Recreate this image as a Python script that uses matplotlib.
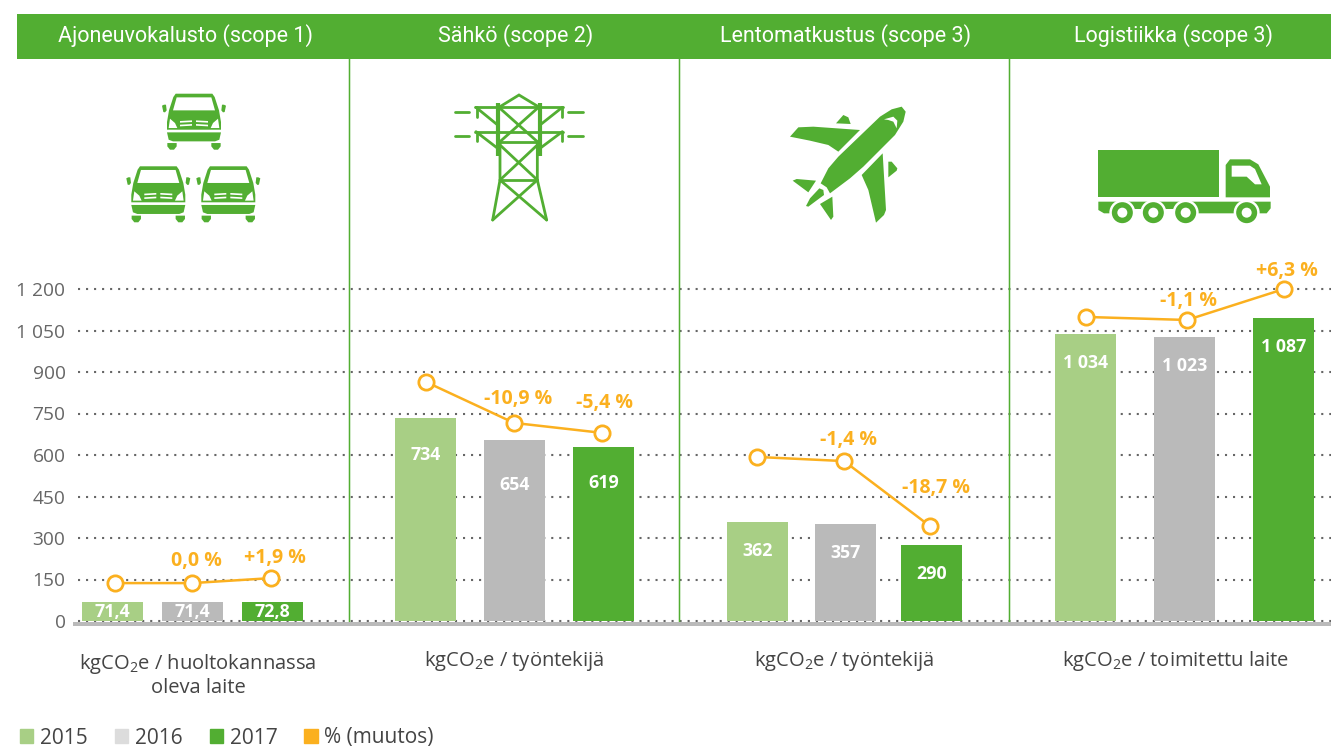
import matplotlib
matplotlib.use("Agg")
import matplotlib.pyplot as plt
from matplotlib.patches import Polygon, Rectangle, Circle, FancyBboxPatch, Patch

# values (bar heights as drawn in the picture, printed labels kept apart)
years = ["2015", "2016", "2017"]
panels = ["Ajoneuvokalusto (scope 1)", "Sähkö (scope 2)", "Lentomatkustus (scope 3)", "Logistiikka (scope 3)"]
v2015 = [69, 734, 358, 1037]
v2016 = [69, 654, 352, 1026]
v2017 = [69, 629, 275, 1095]
bar_labels_2015 = ["71,4", "734", "362", "1 034"]
bar_labels_2016 = ["71,4", "654", "357", "1 023"]
bar_labels_2017 = ["72,8", "619", "290", "1 087"]
# orange change line, read against the same axis
line_1 = [137, 137, 155]
line_2 = [864, 716, 680]
line_3 = [593, 578, 343]
line_4 = [1099, 1088, 1200]
change_1 = ["0,0 %", "+1,9 %"]
change_2 = ["-10,9 %", "-5,4 %"]
change_3 = ["-1,4 %", "-18,7 %"]
change_4 = ["-1,1 %", "+6,3 %"]
yticks = [0, 150, 300, 450, 600, 750, 900, 1050, 1200]
ytick_labels = ["0", "150", "300", "450", "600", "750", "900", "1 050", "1 200"]
units = ["kgCO$_2$e / huoltokannassa\noleva laite", "kgCO$_2$e / työntekijä", "kgCO$_2$e / työntekijä", "kgCO$_2$e / toimitettu laite"]

GREEN = "#52ae32"
LIGHT = "#a8cf85"
GRAY = "#bababa"
ORANGE = "#fbb01f"
TEXT = "#444444"
W, H = 1331, 749

plt.rcParams["font.family"] = ["Open Sans", "DejaVu Sans"]
plt.rcParams["mathtext.fontset"] = "custom"
plt.rcParams["mathtext.rm"] = "Open Sans"
plt.rcParams["mathtext.default"] = "rm"

fig = plt.figure(figsize=(W / 100, H / 100), dpi=100)

# pixel overlay for header, icons and notes
px = fig.add_axes([0, 0, 1, 1], zorder=3)
px.set_xlim(0, W)
px.set_ylim(H, 0)
px.axis("off")
px.patch.set_alpha(0)

# chart axes: 0 at y=621, 1200 at y=289
ax = fig.add_axes([78 / W, (H - 621) / H, (W - 78) / W, (621 - 289) / H], zorder=2)
ax.set_xlim(78, W)
ax.set_ylim(0, 1200)
for s in ax.spines.values():
    s.set_visible(False)
ax.set_xticks([])
ax.set_yticks(yticks)
ax.set_yticklabels(ytick_labels, fontsize=13.8, color="#666666")
ax.tick_params(axis="y", length=0, pad=9)
ax.grid(axis="y", color="#666666", linewidth=1.5, linestyle=(0, (1, 2.85)), zorder=1, clip_on=False)
ax.set_axisbelow(True)

# bar and marker centres for each panel
bar_x = [[112.5, 192.5, 272.5], [425.5, 514.5, 603.5], [757.5, 845.5, 931.5], [1085.5, 1184.5, 1283.5]]
line_x = [[115, 192, 271], [426, 514, 602], [757, 844, 930], [1086, 1187, 1284]]
label_drop = [[10, 10, 10], [37, 45, 36], [29, 29, 29], [29, 29, 29]]
change_xy = [[(196, 561), (275, 558)], [(518, 399), (604, 403)], [(848, 440), (936, 488)], [(1189, 301), (1287, 271)]]
unit_xy = [(198, 675), (514, 661), (844, 661), (1175, 661)]
head_x = [185, 516, 846, 1173]

lines = [line_1, line_2, line_3, line_4]
changes = [change_1, change_2, change_3, change_4]
for i in range(4):
    vals = [v2015[i], v2016[i], v2017[i]]
    labs = [bar_labels_2015[i], bar_labels_2016[i], bar_labels_2017[i]]
    ax.bar(bar_x[i], vals, width=61, color=[LIGHT, GRAY, GREEN], zorder=2)
    for x, v, lab, d in zip(bar_x[i], vals, labs, label_drop[i]):
        ax.annotate(lab, (x, v), xytext=(0, -d * 0.72), textcoords="offset points", ha="center", va="center",
                    color="white", fontsize=12.8, fontweight="bold", zorder=3)
    ax.plot(line_x[i], lines[i], color=ORANGE, linewidth=1.8, marker="o", markersize=11, markerfacecolor="white",
            markeredgecolor=ORANGE, markeredgewidth=2, clip_on=False, zorder=4)
    for (x, y), lab in zip(change_xy[i], changes[i]):
        px.text(x, y, lab, color=ORANGE, fontsize=14, fontweight="bold", ha="center", va="center")
    px.text(unit_xy[i][0], unit_xy[i][1], units[i], color=TEXT, fontsize=14.5, ha="center", va="center", linespacing=1.15)

# header band and separators
px.add_patch(Rectangle((17, 14), W - 17, 45, color=GREEN, lw=0))
for x, name in zip(head_x, panels):
    px.text(x, 35.5, name, color="white", fontsize=15.5, ha="center", va="center", family=["Roboto", "DejaVu Sans"])
for x in [349.5, 679.5, 1009.5]:
    px.plot([x, x], [59, 622], color=GREEN, lw=1.1, solid_capstyle="butt", snap=False)
px.add_patch(Rectangle((73, 621.5), W - 73, 4.5, color=GRAY, lw=0))


def van(cx, top):
    # outline in 3x zoom units, relative to van centre and roof
    def P(pts, c=GREEN):
        px.add_patch(Polygon([(cx + a / 3, top + b / 3) for a, b in pts], closed=True, fc=c, ec="none"))

    def both(pts, c=GREEN):
        P(pts, c)
        P([(-a, b) for a, b in pts], c)
    P([(-55, 0), (55, 0), (62, 10), (75, 50), (81, 85), (81, 108), (-81, 108), (-81, 85), (-75, 50), (-62, 10)])
    P([(-52, 11), (52, 11), (63, 50), (-63, 50)], "white")
    both([(-72, 75), (-76, 103), (-50, 103), (-57, 88)], "white")
    for b in [80, 91]:
        both([(-42, b + 2), (-6, b), (-6, b + 5), (-42, b + 7)], "white")
    P([(-81, 116), (81, 116), (76, 138), (63, 143), (-63, 143), (-76, 138)])
    both([(-80, 148), (-52, 148), (-52, 158), (-60, 168), (-72, 168), (-80, 158)])
    both([(-96, 36), (-90, 33), (-84, 33), (-82, 50), (-87, 56), (-92, 55)])


def pylon():
    def z(a, b):
        return (450 + a / 3, 90 + b / 3)
    thin = [[(150, 50), (207, 15), (265, 50)], [(75, 52), (340, 52)], [(75, 125), (340, 125)],
            [(150, 155), (150, 270), (128, 390)], [(262, 155), (262, 270), (290, 390)],
            [(143, 155), (270, 155)], [(150, 270), (262, 270)], [(150, 55), (262, 155)], [(262, 55), (150, 155)],
            [(150, 165), (262, 270)], [(262, 165), (150, 270)], [(150, 270), (290, 390)], [(262, 270), (128, 390)],
            [(78, 52), (143, 105)], [(337, 52), (270, 105)], [(78, 125), (143, 175)], [(337, 125), (270, 175)],
            [(80, 52), (80, 80)], [(335, 52), (335, 80)], [(80, 125), (80, 152)], [(335, 125), (335, 152)],
            [(15, 66), (58, 66)], [(355, 66), (400, 66)], [(15, 137), (58, 137)], [(355, 137), (400, 137)]]
    for seg in thin:
        xs, ys = zip(*[z(a, b) for a, b in seg])
        px.plot(xs, ys, color=GREEN, lw=2, solid_capstyle="round", solid_joinstyle="miter")
    for a in [143, 270]:
        xs, ys = zip(z(a, 40), z(a, 198))
        px.plot(xs, ys, color=GREEN, lw=3, solid_capstyle="butt")


def plane():
    shapes = [
        [(365, 20), (377, 35), (370, 65), (345, 105), (250, 200), (210, 235), (150, 280), (140, 262), (122, 250), (145, 205), (175, 170), (300, 50), (335, 28)],
        [(30, 110), (55, 82), (100, 80), (240, 90), (175, 155), (145, 135), (90, 122)],
        [(308, 160), (318, 330), (312, 345), (288, 368), (265, 270), (245, 225)],
        [(168, 70), (190, 45), (205, 52), (212, 72)],
        [(325, 185), (335, 185), (352, 205), (350, 212), (325, 232)],
        [(38, 242), (50, 237), (108, 242), (85, 277)],
        [(120, 312), (157, 290), (160, 350), (153, 360)],
        [(78, 318), (90, 295), (118, 265), (130, 270), (132, 285), (105, 305), (85, 320)],
    ]
    for s in shapes:
        px.add_patch(Polygon([(780 + a / 3, 100 + b / 3) for a, b in s], closed=True, fc=GREEN, ec="none"))
    glint = [(312, 58), (340, 50), (352, 62), (350, 85), (340, 65), (325, 60)]
    px.add_patch(Polygon([(780 + a / 3, 100 + b / 3) for a, b in glint], closed=True, fc="white", ec="none"))


def truck():
    def z(a, b):
        return (1090 + a / 3, 145 + b / 3)
    px.add_patch(Polygon([z(25, 15), z(388, 15), z(388, 157), z(25, 157)], fc=GREEN, ec="none"))
    px.add_patch(Polygon([z(407, 157), z(407, 60), z(420, 43), z(480, 43), z(505, 58), z(540, 125), z(540, 157)], fc=GREEN, ec="none"))
    px.add_patch(Polygon([z(425, 62), z(480, 62), z(495, 72), z(515, 118), z(495, 118), z(470, 95), z(425, 95)], fc="white", ec="none"))
    px.add_patch(Polygon([z(25, 170), z(542, 170), z(542, 190), z(530, 205), z(42, 205), z(25, 195)], fc=GREEN, ec="none"))
    px.add_patch(Polygon([z(125, 192), z(260, 192), z(260, 208), z(125, 208)], fc="white", ec="none"))
    for a in [97, 190, 287, 470]:
        c = z(a, 203)
        px.add_patch(Circle(c, 13, fc="white", ec="none"))
        px.add_patch(Circle(c, 10.5, fc=GREEN, ec="none"))
        px.add_patch(Circle(c, 5, fc="white", ec="none"))


van(194, 93.7)
van(158.3, 166.3)
van(228.3, 166.3)
pylon()
plane()
truck()

# legend
handles = [Patch(color=LIGHT, label=years[0]), Patch(color="#dcdcdc", label=years[1]), Patch(color=GREEN, label=years[2]), Patch(color=ORANGE, label="% (muutos)")]
leg = fig.legend(handles=handles, loc="center left", bbox_to_anchor=(20 / W, (H - 738) / H), ncol=4, frameon=False,
                 fontsize=15, handlelength=0.63, handleheight=0.63, handletextpad=0.33, columnspacing=1.3, borderpad=0, borderaxespad=0)
for t in leg.get_texts():
    t.set_color(TEXT)

fig.savefig("out.png", dpi=100)
